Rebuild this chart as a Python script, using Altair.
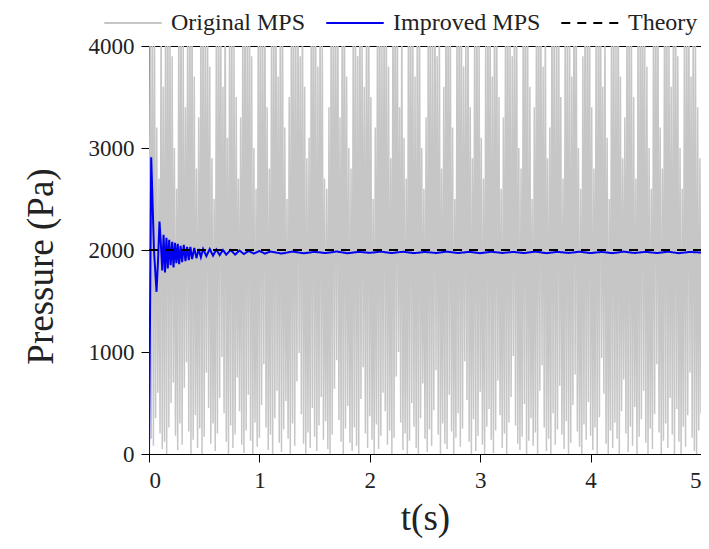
import altair as alt
import pandas as pd

SERIES = ["Original MPS", "Improved MPS", "Theory"]

# Original MPS: pressure samples (strong oscillation), dt = 0.01 s
orig_p = [
    0, 4300, 150, 4800, 80, 4100, 350, 3200, 600, 2700, 200, 4600, 50, 3600, 120, 4400, 0, 4900, 260, 4200,
    500, 3900, 700, 3000, 180, 2600, 40, 4500, 300, 4700, 90, 4000, 650, 3400, 900, 4300, 220, 4800, 0, 4600,
    140, 3700, 380, 2800, 60, 3300, 250, 4400, 0, 4900, 170, 4100, 800, 4500, 450, 3800, 100, 2900, 300, 2500,
    30, 4200, 200, 4700, 550, 4400, 950, 3600, 400, 4800, 120, 3100, 0, 4300, 280, 4600, 60, 4000, 190, 3500,
    750, 2700, 420, 3300, 90, 4500, 10, 4900, 230, 4200, 580, 4700, 130, 3900, 0, 3000, 310, 2600, 70, 4400,
    160, 4800, 480, 4100, 880, 4600, 260, 3400, 40, 2800, 190, 4300, 0, 4700, 350, 4500, 620, 3700, 110, 4900,
    20, 4200, 240, 3200, 520, 2500, 150, 3500, 0, 4600, 300, 4800, 80, 4100, 710, 4400, 990, 3900, 390, 4700,
    100, 3600, 0, 2900, 210, 3100, 60, 4500, 450, 4900, 170, 4300, 30, 3800, 280, 4600, 560, 4000, 140, 2700,
    320, 2600, 50, 3400, 0, 4400, 190, 4800, 640, 4200, 920, 4700, 330, 3300, 120, 4500, 0, 4900, 250, 3700,
    470, 3000, 110, 2800, 30, 4300, 260, 4600, 80, 3900, 0, 4800, 540, 4100, 850, 3600, 200, 4400, 60, 4700,
    370, 3500, 140, 2500, 0, 3200, 290, 4500, 50, 4900, 180, 4000, 600, 4700, 420, 4300, 90, 3800, 230, 2900,
    0, 4600, 160, 4800, 760, 4200, 1000, 3400, 310, 4500, 40, 3100, 200, 2700, 0, 4400, 130, 4900, 500, 4100,
    270, 3700, 60, 4300, 0, 4700, 350, 3000, 690, 2600, 150, 3300, 20, 4500, 240, 4800, 80, 4000, 430, 4600,
    820, 3900, 190, 4400, 0, 2800, 300, 3600, 100, 4700, 50, 4900, 580, 4200, 220, 3200, 0, 2500, 160, 4300,
    400, 4800, 70, 4500, 250, 3800, 910, 4100, 530, 4600, 120, 3400, 0, 2900, 340, 4400, 30, 4800, 180, 4000,
    610, 3100, 90, 2700, 0, 4200, 270, 4700, 440, 4500, 140, 3700, 10, 4900, 230, 4300, 720, 3500, 380, 2600,
    60, 3300, 200, 4600, 0, 4800, 310, 4100, 560, 3900, 960, 4400, 280, 4700, 100, 3000, 40, 2800, 170, 4500,
    490, 4900, 0, 4200, 130, 3600, 350, 2500, 80, 3400, 210, 4600, 0, 4800, 620, 4300, 870, 3800, 260, 4500,
    30, 2900, 150, 3200, 0, 4700, 400, 4400, 90, 4000, 240, 4900, 670, 3500, 190, 2700, 50, 4300, 320, 4600,
    0, 4100, 110, 3700, 480, 4800, 780, 4500, 220, 3000, 70, 2600, 0, 3900, 290, 4700, 140, 4400, 510, 4900,
    180, 3400, 40, 2800, 260, 4200, 0, 4600, 360, 4800, 940, 3600, 590, 4300, 100, 3100, 0, 2500, 230, 4500,
    60, 4700, 310, 4000, 150, 4900, 0, 3700, 420, 2900, 730, 3300, 200, 4400, 20, 4800, 270, 4100, 80, 3500,
    460, 2700, 0, 4300, 170, 4600, 340, 4900, 620, 4200, 110, 3800, 0, 3000, 250, 2600, 50, 4500, 390, 4700,
    880, 4400, 210, 3200, 0, 2800, 130, 4600, 300, 4800, 60, 4100, 550, 3600, 190, 4300, 0, 4900, 440, 3900,
    120, 3000, 0, 2600, 270, 4200, 70, 4700, 380, 4500, 800, 3700, 160, 4800, 30, 4000, 0, 3400, 230, 2900,
    400,
]
orig_t = [round(i * 0.01, 3) for i in range(len(orig_p))]

# Improved MPS
impr_t = [0.0, 0.02, 0.045, 0.068, 0.082, 0.095, 0.108, 0.12, 0.132, 0.145, 0.158, 0.17, 0.183, 0.196,
          0.21, 0.222, 0.235, 0.248, 0.26, 0.273, 0.286, 0.3, 0.315, 0.33, 0.345, 0.36, 0.375, 0.39,
          0.41, 0.43, 0.45, 0.47, 0.49, 0.52, 0.55, 0.58, 0.61, 0.64, 0.67, 0.7, 0.74, 0.78, 0.82,
          0.86, 0.9, 0.95, 1.0, 1.05, 1.1, 1.2, 1.3, 1.4, 1.5, 1.6, 1.7, 1.8, 1.9, 2.0, 2.1, 2.2, 2.3,
          2.4, 2.5, 2.6, 2.7, 2.8, 2.9, 3.0, 3.1, 3.2, 3.3, 3.4, 3.5, 3.6, 3.7, 3.8, 3.9, 4.0, 4.1,
          4.2, 4.3, 4.4, 4.5, 4.6, 4.7, 4.8, 4.9, 5.0]
impr_p = [0, 2910, 2000, 1590, 1900, 2280, 2050, 1800, 2150, 1780, 2120, 1820, 2100, 1850,
          2080, 1830, 2070, 1870, 2060, 1860, 2040, 1880, 2050, 1890, 2030, 1900, 2030, 1910,
          2020, 1920, 2010, 1930, 2010, 1940, 2010, 1945, 2005, 1950, 2000, 1955, 2000, 1955, 1995,
          1960, 1990, 1965, 1990, 1965, 1985, 1965, 1985, 1968, 1982, 1970, 1985, 1968, 1982, 1972, 1984, 1970, 1983,
          1969, 1981, 1971, 1984, 1970, 1982, 1969, 1983, 1971, 1981, 1970, 1984, 1969, 1982, 1971, 1983, 1970, 1981,
          1969, 1984, 1971, 1982, 1970, 1983, 1969, 1981, 1975]

# Theory
theo_t = [0.0, 5.0]
theo_p = [2000, 2000]

df = pd.concat([
    pd.DataFrame({"t": orig_t, "p": orig_p, "series": SERIES[0]}),
    pd.DataFrame({"t": impr_t, "p": impr_p, "series": SERIES[1]}),
    pd.DataFrame({"t": theo_t, "p": theo_p, "series": SERIES[2]}),
], ignore_index=True)

FONT = "Liberation Serif"

legend = alt.Legend(
    title=None, orient="none", legendX=-46, legendY=-53, direction="horizontal",
    symbolType="stroke", symbolSize=3300, symbolStrokeWidth=2,
    labelFont=FONT, labelFontSize=24, labelColor="#222222", labelOffset=8,
    columnPadding=16, labelLimit=400, padding=0,
)

x = alt.X("t:Q", scale=alt.Scale(domain=[0, 5], nice=False),
          axis=alt.Axis(values=[0, 1, 2, 3, 4, 5], format="d", title="t(s)"))
y = alt.Y("p:Q", scale=alt.Scale(domain=[0, 4000], nice=False),
          axis=alt.Axis(values=[0, 1000, 2000, 3000, 4000], format="d", title="Pressure (Pa)",
                        titleY=220))
color = alt.Color("series:N", scale=alt.Scale(domain=SERIES, range=["#c6c6c6", "#0000ee", "#000000"]),
                  legend=legend)
dash = alt.StrokeDash("series:N", scale=alt.Scale(domain=SERIES, range=[[1, 0], [1, 0], [9, 7]]),
                      legend=legend)

base = alt.Chart(df).encode(x=x, y=y, color=color, strokeDash=dash, order="t:Q")

gray = base.transform_filter(alt.datum.series == SERIES[0]).mark_line(strokeWidth=1.5, clip=True)
blue = base.transform_filter(alt.datum.series == SERIES[1]).mark_line(strokeWidth=2, clip=True)
theo = base.transform_filter(alt.datum.series == SERIES[2]).mark_line(strokeWidth=2, clip=True)

chart = alt.layer(gray, blue, theo).properties(
    width=552, height=408,
    autosize=alt.AutoSizeParams(type="none"),
    padding={"left": 141, "top": 38, "right": 0, "bottom": 84},
).configure_view(
    stroke="#000000", strokeWidth=1
).configure_axis(
    grid=False, domainColor="#000000", domainWidth=1, tickColor="#000000", tickSize=8, tickWidth=1,
    labelFont=FONT, labelFontSize=23, labelColor="#222222", labelPadding=7,
    titleFont=FONT, titleFontSize=37, titleFontWeight="normal", titleColor="#222222",
).configure_axisX(
    titlePadding=8,
).configure_axisY(
    titlePadding=28,
)

chart.save("out.html", embed_options={"renderer": "svg", "actions": False})
